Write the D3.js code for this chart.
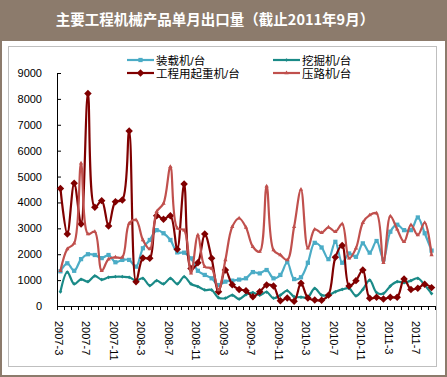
<!DOCTYPE html>
<html>
<head>
<meta charset="utf-8">
<script src="https://cdn.jsdelivr.net/npm/d3@7"></script>
<style>
  body { margin: 0; background: #fff; }
  svg { display: block; }
</style>
</head>
<body>
<div id="chart"><svg width="447" height="377"></svg></div>
<script>
const svg = d3.select("#chart svg");
const width = 447;
const height = 377;

// months 2007-3 .. 2011-9
const months = [];
for (let y = 2007; y <= 2011; y++) {
    for (let m = 1; m <= 12; m++) {
        if (y === 2007 && m < 3) continue;
        if (y === 2011 && m > 9) continue;
        months.push(y + "-" + m);
    }
}
const tickLabels = ["2007-3", "2007-7", "2007-11", "2008-3", "2008-7", "2008-11", "2009-3",
    "2009-7", "2009-11", "2010-3", "2010-7", "2010-11", "2011-3", "2011-7"];
const yTicks = [0, 1000, 2000, 3000, 4000, 5000, 6000, 7000, 8000, 9000];

const loader = [1340, 1650, 1360, 1810, 2000, 1970, 1850, 1970, 1690, 1780, 1780, 1520, 2230, 2550,
    2930, 2810, 2550, 2070, 2060, 1840, 1360, 1200, 1070, 810, 940, 980, 1020, 1070,
    1310, 1260, 1390, 1070, 1200, 1690, 1040, 1110, 1670, 2440, 2260, 1810, 2480,
    1670, 2030, 1900, 2420, 2060, 2510, 1800, 2870, 3140, 2930, 2930, 3420, 2810, 2140];
const excavator = [550, 1310, 850, 1030, 940, 1160, 1020, 1110, 1130, 1130, 1110, 980, 1070, 790,
    980, 850, 1070, 850, 1130, 850, 750, 620, 620, 320, 300, 420, 270, 440,
    520, 420, 540, 300, 420, 590, 360, 340, 340, 680, 420, 420, 550,
    640, 680, 390, 640, 1000, 520, 480, 770, 940, 900, 980, 1070, 810, 480];
const crane = [4540, 2780, 4740, 3170, 8210, 3810, 4070, 3090, 4030, 4090, 6760, 940, 1850, 1840,
    3490, 3350, 3490, 2190, 4710, 1450, 1670, 2780, 1840, 550, 1390, 820, 640, 590,
    360, 550, 810, 770, 200, 310, 180, 880, 310, 230, 220, 420, 1880,
    2340, 770, 980, 1390, 300, 340, 270, 340, 340, 1040, 640, 690, 840, 710];
const roller = [1360, 2200, 2420, 5510, 2780, 2870, 1360, 1810, 1880, 1880, 3190, 3320, 2550, 2200,
    3640, 3960, 5380, 3000, 2930, 1260, 2740, 1520, 1450, 620, 1780, 3060, 3390, 3030,
    2290, 2100, 4630, 2160, 1970, 1780, 3060, 4500, 2230, 2960, 2830, 3040, 2870,
    3170, 1840, 2230, 3220, 3510, 3580, 1670, 3470, 2960, 2480, 3130, 2740, 3220, 1970];

const seriesNames = ["装载机/台", "挖掘机/台", "工程用起重机/台", "压路机/台"];
const seriesColors = ["#4BACC6", "#1A8A87", "#800000", "#C0504D"];
const seriesData = [loader, excavator, crane, roller];
const markerTypes = [d3.symbolSquare, d3.symbolSquare, d3.symbolSquare, d3.symbolTriangle];
const markerSizes = [18, 7, 28, 8];
const markerRotate = [0, 45, 45, 0];

// frame
svg.append("rect").attr("x", 0).attr("y", 0).attr("width", width).attr("height", height)
    .attr("fill", "#8C7B6C");
svg.append("rect").attr("x", 2).attr("y", 41).attr("width", width - 4).attr("height", height - 43)
    .attr("fill", "#fff");
svg.append("rect").attr("x", 8.5).attr("y", 46.5).attr("width", 428).attr("height", 320)
    .attr("fill", "none").attr("stroke", "#BFBFBF");

// title
svg.append("text")
    .attr("x", 215)
    .attr("y", 25)
    .attr("text-anchor", "middle")
    .attr("fill", "#fff")
    .attr("font-family", "'Noto Sans CJK SC', sans-serif")
    .attr("font-weight", "bold")
    .attr("font-size", "14.5px")
    .text("主要工程机械产品单月出口量（截止2011年9月）");

const x = d3.scaleBand().domain(months).range([57, 435]).padding(0);
const y = d3.scaleLinear().domain([0, 9000]).range([306, 73]);

// y axis
const yAxis = svg.append("g").attr("transform", "translate(57,0)")
    .call(d3.axisLeft(y).tickValues(yTicks).tickSize(-4).tickPadding(15).tickFormat(d3.format("d")));
yAxis.select(".domain").attr("stroke", "#000");
yAxis.selectAll(".tick line").attr("stroke", "#000");
yAxis.selectAll("text").attr("font-family", "'Liberation Sans', Arial, sans-serif")
    .attr("font-size", "11px").attr("fill", "#000");

// x axis
svg.append("line").attr("x1", 57).attr("x2", 435).attr("y1", 306.5).attr("y2", 306.5)
    .attr("stroke", "#000");
const boundaries = months.map(m => x(m)).concat([x(months[months.length - 1]) + x.bandwidth()]);
for (let i = 0; i < boundaries.length; i++) {
    svg.append("line")
        .attr("x1", Math.round(boundaries[i]) + 0.5).attr("x2", Math.round(boundaries[i]) + 0.5)
        .attr("y1", 306).attr("y2", 310)
        .attr("stroke", "#000");
}
for (let i = 0; i < tickLabels.length; i++) {
    const cx = x(tickLabels[i]) + x.bandwidth() / 2;
    svg.append("text")
        .attr("transform", `translate(${cx - 5.5},321) rotate(90)`)
        .attr("font-family", "'Liberation Sans', Arial, sans-serif")
        .attr("font-size", "11px")
        .text(tickLabels[i]);
}

// series
const line = d3.line()
    .x((d, i) => x(months[i]) + x.bandwidth() / 2)
    .y(d => y(d))
    .curve(d3.curveCatmullRom.alpha(0.5));

for (let s = 0; s < seriesData.length; s++) {
    svg.append("path")
        .attr("d", line(seriesData[s]))
        .attr("fill", "none")
        .attr("stroke", seriesColors[s])
        .attr("stroke-width", 2.2);
    const sym = d3.symbol().type(markerTypes[s]).size(markerSizes[s]);
    for (let i = 0; i < seriesData[s].length; i++) {
        svg.append("path")
            .attr("d", sym())
            .attr("transform", `translate(${x(months[i]) + x.bandwidth() / 2},${y(seriesData[s][i])}) rotate(${markerRotate[s]})`)
            .attr("fill", seriesColors[s]);
    }
}

// legend
const legendPos = [[127, 60], [273, 60], [127, 73], [273, 73]];
for (let s = 0; s < seriesNames.length; s++) {
    const lx = legendPos[s][0];
    const ly = legendPos[s][1];
    svg.append("line").attr("x1", lx).attr("x2", lx + 27).attr("y1", ly).attr("y2", ly)
        .attr("stroke", seriesColors[s]).attr("stroke-width", 2.2);
    svg.append("path")
        .attr("d", d3.symbol().type(markerTypes[s]).size(markerSizes[s])())
        .attr("transform", `translate(${lx + 13.5},${ly}) rotate(${markerRotate[s]})`)
        .attr("fill", seriesColors[s]);
    svg.append("text")
        .attr("x", lx + 29)
        .attr("y", ly + 4.5)
        .attr("font-family", "'Liberation Sans', 'Noto Sans CJK SC', sans-serif")
        .attr("font-size", "11.5px")
        .text(seriesNames[s]);
}
</script>
</body>
</html>
